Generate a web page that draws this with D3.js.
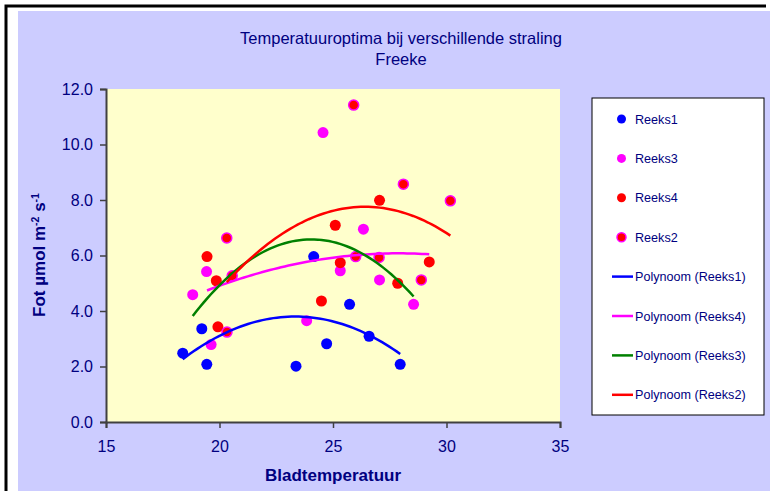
<!DOCTYPE html>
<html><head><meta charset="utf-8">
<script src="https://cdn.jsdelivr.net/npm/d3@7"></script>
<style>body{margin:0;background:#fff}svg{display:block}text{font-family:"Liberation Sans",Arial,sans-serif}</style>
</head><body>
<svg id="c" width="770" height="491"></svg>
<script>
const titleLines = ["Temperatuuroptima bij verschillende straling", "Freeke"];
const xTicks = [15, 20, 25, 30, 35];
const yTicks = [0, 2, 4, 6, 8, 10, 12];
const xTitle = "Bladtemperatuur";

const reeks1X = [18.38, 19.22, 19.44, 23.37, 24.15, 24.72, 25.73, 26.59, 27.96];
const reeks1Y = [2.48, 3.36, 2.08, 2.01, 5.96, 2.82, 4.24, 3.09, 2.08];
const reeks3X = [18.82, 19.43, 19.63, 23.84, 24.56, 25.32, 26.34, 27.05, 28.55];
const reeks3Y = [4.59, 5.42, 2.79, 3.65, 10.43, 5.45, 6.95, 5.12, 4.24];
const reeks4X = [19.45, 19.86, 19.93, 24.49, 25.10, 25.32, 27.05, 27.85, 29.24];
const reeks4Y = [5.96, 5.09, 3.43, 4.36, 7.09, 5.74, 7.99, 5.00, 5.77];
const reeks2X = [20.32, 20.56, 20.33, 25.91, 26.00, 27.03, 28.10, 28.89, 30.17];
const reeks2Y = [6.63, 5.27, 3.24, 11.42, 5.96, 5.93, 8.57, 5.12, 7.97];

const series = [
  {name: "Reeks1", xs: reeks1X, ys: reeks1Y, fill: "#0000FF", stroke: "#0000FF"},
  {name: "Reeks3", xs: reeks3X, ys: reeks3Y, fill: "#FF00FF", stroke: "#FF00FF"},
  {name: "Reeks4", xs: reeks4X, ys: reeks4Y, fill: "#FF0000", stroke: "#FF0000"},
  {name: "Reeks2", xs: reeks2X, ys: reeks2Y, fill: "#FF0000", stroke: "#FF00FF"}
];
const trends = [
  {name: "Polynoom (Reeks1)", src: 0, color: "#0000FF"},
  {name: "Polynoom (Reeks4)", src: 2, color: "#FF00FF"},
  {name: "Polynoom (Reeks3)", src: 1, color: "#008000"},
  {name: "Polynoom (Reeks2)", src: 3, color: "#FF0000"}
];

const svg = d3.select("#c");
const navy = "#000080";

// frame
svg.append("rect").attr("x", 0).attr("y", 0).attr("width", 770).attr("height", 491).attr("fill", "#fff");
svg.append("path").attr("d", "M6,491 V6 H766").attr("fill", "none").attr("stroke", "#000").attr("stroke-width", 3);
svg.append("rect").attr("x", 18).attr("y", 11).attr("width", 752).attr("height", 480).attr("fill", "#CCCCFF");

const x = d3.scaleLinear().domain([15, 35]).range([106, 560]);
const y = d3.scaleLinear().domain([0, 12]).range([422, 89]);

svg.append("rect").attr("x", x(15)).attr("y", y(12)).attr("width", x(35) - x(15)).attr("height", y(0) - y(12)).attr("fill", "#FFFFCC");

// title
svg.append("text").attr("x", 401).attr("y", 44).attr("text-anchor", "middle").attr("fill", navy).attr("font-size", 16.5).text(titleLines[0]);
svg.append("text").attr("x", 401).attr("y", 65).attr("text-anchor", "middle").attr("fill", navy).attr("font-size", 16.5).text(titleLines[1]);

// axes
const xAxis = svg.append("g").attr("transform", `translate(0,${y(0)})`)
  .call(d3.axisBottom(x).tickValues(xTicks).tickSize(6).tickPadding(13).tickFormat(d3.format("d")));
const yAxis = svg.append("g").attr("transform", `translate(${x(15)},0)`)
  .call(d3.axisLeft(y).tickValues(yTicks).tickSize(6).tickPadding(7).tickFormat(d3.format(".1f")));
[xAxis, yAxis].forEach(g => {
  g.select(".domain").attr("stroke", "#404040").attr("stroke-width", 2);
  g.selectAll(".tick line").attr("stroke", "#404040").attr("stroke-width", 1.5);
  g.selectAll("text").attr("fill", navy).attr("font-size", 16).attr("font-family", "Liberation Sans, Arial, sans-serif");
});

svg.append("text").attr("x", 333).attr("y", 481).attr("text-anchor", "middle").attr("fill", navy)
  .attr("font-size", 17).attr("font-weight", "bold").text(xTitle);

const yt = svg.append("text").attr("transform", "translate(45,255) rotate(-90)").attr("text-anchor", "middle")
  .attr("fill", navy).attr("font-size", 17).attr("font-weight", "bold");
yt.append("tspan").text("Fot \u00B5mol m");
yt.append("tspan").attr("dy", -6).attr("font-size", 10.5).text("-2");
yt.append("tspan").attr("dy", 6).text(" s");
yt.append("tspan").attr("dy", -6).attr("font-size", 10.5).text("-1");

// quadratic least-squares trendline from data
function quadFit(xs, ys) {
  const n = xs.length;
  let s = [0, 0, 0, 0, 0], t = [0, 0, 0];
  for (let i = 0; i < n; i++) {
    const xv = xs[i], yv = ys[i];
    for (let k = 0; k < 5; k++) s[k] += Math.pow(xv, k);
    for (let k = 0; k < 3; k++) t[k] += yv * Math.pow(xv, k);
  }
  const A = [[s[0], s[1], s[2], t[0]], [s[1], s[2], s[3], t[1]], [s[2], s[3], s[4], t[2]]];
  for (let i = 0; i < 3; i++) {
    for (let j = i + 1; j < 3; j++) {
      const f = A[j][i] / A[i][i];
      for (let k = i; k < 4; k++) A[j][k] -= f * A[i][k];
    }
  }
  const c = [0, 0, 0];
  for (let i = 2; i >= 0; i--) {
    let v = A[i][3];
    for (let k = i + 1; k < 3; k++) v -= A[i][k] * c[k];
    c[i] = v / A[i][i];
  }
  return xv => c[0] + c[1] * xv + c[2] * xv * xv;
}

// markers
series.forEach(s => {
  svg.append("g").selectAll("circle").data(s.xs.map((xv, i) => [xv, s.ys[i]])).join("circle")
    .attr("cx", d => x(d[0])).attr("cy", d => y(d[1])).attr("r", s.fill === s.stroke ? 5.5 : 5)
    .attr("fill", s.fill).attr("stroke", s.stroke).attr("stroke-width", s.fill === s.stroke ? 0 : 1.5);
});

// trendlines
const line = d3.line().x(d => x(d[0])).y(d => y(d[1]));
trends.forEach(tr => {
  const s = series[tr.src];
  const f = quadFit(s.xs, s.ys);
  const [lo, hi] = d3.extent(s.xs);
  const pts = d3.range(0, 61).map(i => { const xv = lo + (hi - lo) * i / 60; return [xv, f(xv)]; });
  svg.append("path").datum(pts).attr("d", line).attr("fill", "none").attr("stroke", tr.color).attr("stroke-width", 2.5);
});

// legend
svg.append("rect").attr("x", 592).attr("y", 98).attr("width", 172).attr("height", 317)
  .attr("fill", "#fff").attr("stroke", "#000").attr("stroke-width", 1);
const ly0 = 119, ldy = 39.4;
series.forEach((s, i) => {
  const yy = ly0 + i * ldy;
  svg.append("circle").attr("cx", 621.5).attr("cy", yy).attr("r", 4.5).attr("fill", s.fill)
    .attr("stroke", s.stroke).attr("stroke-width", s.fill === s.stroke ? 0 : 1.5);
  svg.append("text").attr("x", 635).attr("y", yy + 4.5).attr("fill", navy).attr("font-size", 12.6).text(s.name);
});
trends.forEach((tr, i) => {
  const yy = ly0 + (i + 4) * ldy;
  svg.append("line").attr("x1", 612).attr("x2", 633).attr("y1", yy).attr("y2", yy).attr("stroke", tr.color).attr("stroke-width", 2.5);
  svg.append("text").attr("x", 635).attr("y", yy + 4.5).attr("fill", navy).attr("font-size", 12.6).text(tr.name);
});
</script>
</body></html>
